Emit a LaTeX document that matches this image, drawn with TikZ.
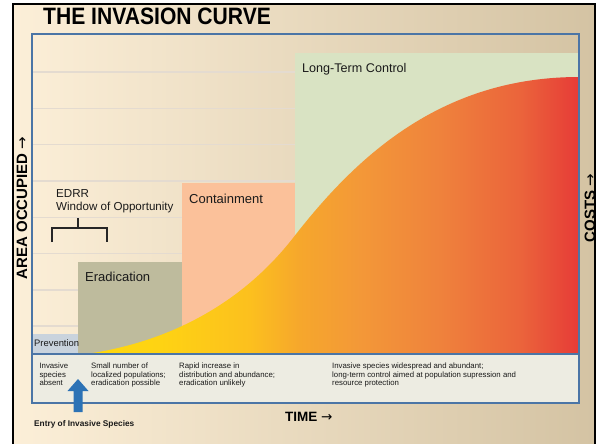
\documentclass[tikz,border=0pt]{standalone}
\usepackage{fontspec}
\setmainfont{Liberation Sans}
\newfontfamily\arrfont{DejaVu Sans}
\usepackage{graphicx}
\definecolor{bgL}{HTML}{FCEFD8}
\definecolor{bgR}{HTML}{D4C3A3}
\definecolor{gridc}{HTML}{E4DBD0}
\definecolor{blueb}{HTML}{4B75A6}
\definecolor{arrowblue}{HTML}{2C72B5}
\definecolor{prevc}{HTML}{C9D3DD}
\definecolor{eradc}{HTML}{BEBB9D}
\definecolor{contc}{HTML}{FBC19A}
\definecolor{ltcc}{HTML}{D9E3C3}
\definecolor{lowc}{HTML}{EDECE2}
\definecolor{txtc}{HTML}{1A1A1A}
\definecolor{cy0}{HTML}{FFD80E}
\definecolor{cy1}{HTML}{FED313}
\definecolor{cy2}{HTML}{FCC01E}
\definecolor{co1}{HTML}{F6A72C}
\definecolor{co2}{HTML}{F39838}
\definecolor{co3}{HTML}{EF823C}
\definecolor{co4}{HTML}{EB643B}
\definecolor{cr}{HTML}{E63B37}
\pgfdeclarehorizontalshading{invcurve}{100bp}{color(0bp)=(cy0); color(25bp)=(cy0); color(32.5bp)=(cy1); color(41.6bp)=(cy2); color(46.7bp)=(co1); color(52.8bp)=(co2); color(60.9bp)=(co3); color(69bp)=(co4); color(75bp)=(cr); color(100bp)=(cr)}
\newcommand{\rarr}{{\arrfont\mdseries →}}
\begin{document}
\begin{tikzpicture}[x=1pt,y=-1pt,
  lab/.style={anchor=north west, inner sep=0pt, text=txtc},
  boxlab/.style={lab, font=\fontsize{13}{15}\selectfont},
  small/.style={lab, align=left, font=\fontsize{7.8}{8.3}\selectfont},
  axislab/.style={inner sep=0pt, anchor=center, rotate=90, text=black, font=\fontsize{15}{17}\selectfont\bfseries},
  gridline/.style={draw=gridc, line width=1.4pt}]
\useasboundingbox (0,0) rectangle (602,444);
\clip (0,0) rectangle (602,444);
% background and outer frame
\fill[left color=bgL, right color=bgR] (13,3.7) rectangle (595,460);
\draw[line width=2pt, black] (13,3.7) rectangle (595,460);
% grid lines
\foreach \yy in {72,108.3,144.6,180.9,217.2,253.5,289.8,326.1}
  \draw[gridline] (32,\yy) -- (579,\yy);
% phase boxes
\fill[prevc] (32,333.5) rectangle (78.3,354);
\fill[eradc] (78.3,261.7) rectangle (181.5,354);
\fill[contc] (181.5,183.3) rectangle (294.5,354);
\fill[ltcc] (294.5,53.5) rectangle (579,354);
% invasion curve
\shade[shading=invcurve] (86,354) .. controls (150,345) and (232,316) .. (293,238)
  .. controls (355,158) and (440,77) .. (579,77) -- (579,354) -- cycle;
% lower description box
\fill[lowc] (32,354) rectangle (579,403);
\draw[blueb, line width=2pt] (32,34) rectangle (579,403);
\draw[blueb, line width=2pt] (32,354) -- (579,354);
% EDRR bracket
\draw[line width=1.3pt, black!85] (52,242) -- (52,228) -- (107,228) -- (107,242);
\draw[line width=1.3pt, black!85] (78,228) -- (78,217.5);
% entry arrow
\fill[arrowblue] (73.5,412) -- (73.5,391) -- (67.5,391) -- (78,379) -- (88.5,391) -- (82.5,391) -- (82.5,412) -- cycle;
% texts
\node[lab, font=\fontsize{23.7}{26}\selectfont\bfseries, text=black] (title) at (43,8) {\scalebox{0.89}[1]{THE INVASION CURVE}};
\node[lab, font=\fontsize{12.6}{14}\selectfont] (ltc) at (302,63.6) {Long-Term Control};
\node[boxlab] (cont) at (189,194.3) {Containment};
\node[boxlab] (erad) at (85,272.2) {Eradication};
\node[lab, font=\fontsize{9.4}{11}\selectfont] (prev) at (34,339.6) {Prevention};
\node[lab, align=left, font=\fontsize{11.6}{13}\selectfont] (edrr) at (56,188.9) {EDRR\\Window of Opportunity};
\node[small] (d1) at (39.3,363) {Invasive\\species\\absent};
\node[small] (d2) at (91,363) {Small number of\\localized populations;\\eradication possible};
\node[small] (d3) at (179,363) {Rapid increase in\\distribution and abundance;\\eradication unlikely};
\node[small] (d4) at (332,363) {Invasive species widespread and abundant;\\long-term control aimed at population supression and\\resource protection};
\node[lab, font=\fontsize{8.3}{10}\selectfont\bfseries] (entry) at (34,420) {Entry of Invasive Species};
\node[lab, font=\fontsize{13.5}{15}\selectfont\bfseries, text=black] (time) at (285,411.7) {TIME \rarr};
\node[axislab] (area) at (22,208) {AREA OCCUPIED \rarr};
\node[axislab] (costs) at (590,208) {COSTS \rarr};
\end{tikzpicture}
\end{document}
